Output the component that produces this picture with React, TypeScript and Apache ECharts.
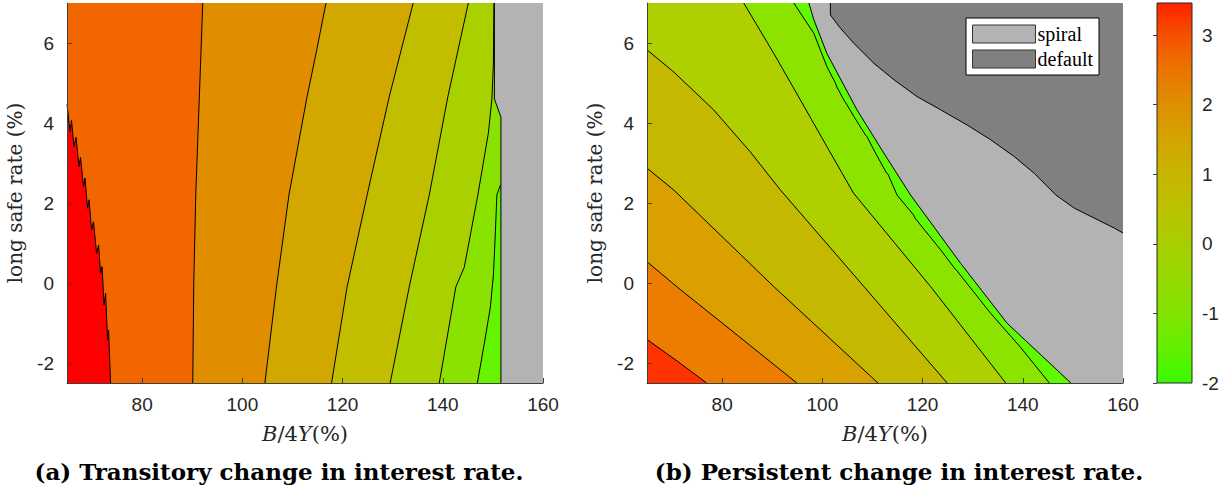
import React, { useEffect, useRef } from "react";
import * as echarts from "echarts";

// ---------- axes ----------
const X_MIN = 65;
const X_MAX = 160;
const Y_MIN = -2.5;
const Y_MAX = 7;
const xTicks = [80, 100, 120, 140, 160];
const yTicks = [-2, 0, 2, 4, 6];
const colorbarTicks = [-2, -1, 0, 1, 2, 3];
const colorbarMin = -2;
const colorbarMax = 3.46;
const colorbarStops: [number, string][] = [
  [3.46, "#ff2200"], [3, "#f55000"], [2.5, "#ea7400"], [2, "#df8f00"],
  [1.5, "#d3a400"], [1, "#c7b500"], [0.5, "#bac200"], [0, "#a9ce00"],
  [-0.5, "#97d900"], [-1, "#82e400"], [-1.5, "#63ef00"], [-2, "#38fb00"],
];

// ---------- (a) transitory: contour lines [B/4Y, rate] ----------
const leftLine0 = [
  [65, 4.47], [65.6, 3.78], [65.9, 4.06], [66.4, 3.41], [66.8, 3.64], [67.4, 2.91],
  [67.7, 3.14], [68.3, 2.41], [68.6, 2.62], [69.1, 1.87], [69.4, 2.08], [69.9, 1.33],
  [70.3, 1.53], [70.9, 0.74], [71.3, 0.95], [71.7, 0.24], [72, 0.41], [72.4, -0.55],
  [72.7, -0.26], [73.1, -1.43], [73.3, -1.18], [73.7, -2.5],
];
const leftLine1 = [[92.1, 7], [91.4, 4.6], [90.7, 2.2], [90.3, 0], [90.1, -2.5]];
const leftLine2 = [[116.7, 7], [114.8, 5.8], [112.9, 4.65], [109.3, 2.2], [106.8, -0.1], [104.5, -2.5]];
const leftLine3 = [[134.1, 7], [129.3, 4.65], [124.9, 2.2], [120.9, -0.1], [117.8, -2.5]];
const leftLine4 = [[145.1, 7], [141, 4.65], [137.3, 2.2], [133.3, -0.1], [129.5, -2.5]];
const leftLine5 = [[150.2, 7], [150.1, 5.5], [149.8, 4.6], [149.1, 3.75], [147.0, 2.2], [144.3, 0.4], [142.6, -0.1], [139.3, -2.5]];
const leftLine6 = [[151.5, 2.45], [150.8, 2.2], [150.4, 1.0], [150.1, 0.2], [149.5, -0.6], [148.3, -1.5], [146.9, -2.5]];
const leftSpiralEdge = [[150.3, 7], [150.3, 4.6], [151.6, 4.15], [151.6, -2.5]];
const leftBaseColor = "#ff0000";
const leftBandColors = ["#f26600", "#e08d00", "#d2a800", "#c1be00", "#a9d100", "#89e200", "#66f300"];
const leftBandLines = [leftLine0, leftLine1, leftLine2, leftLine3, leftLine4, leftLine5, leftLine6];

// ---------- (b) persistent ----------
const rightLine0 = [[65, -1.41], [71, -1.95], [76.9, -2.5]];
const rightLine1 = [[65, 0.53], [72, -0.2], [80, -1.0], [94.9, -2.5]];
const rightLine2 = [[65, 2.87], [70.3, 2.33], [80.3, 1.12], [90.3, -0.09], [111.1, -2.5]];
const rightLine3 = [[65, 5.83], [70.3, 5.28], [78.3, 4.33], [85.6, 3.28], [91.6, 2.33], [108.3, -0.09], [124.9, -2.5]];
const rightLine4 = [[84.3, 7], [90.3, 5.74], [95.6, 4.58], [100.9, 3.41], [106.2, 2.25], [121.6, -0.09], [136.6, -2.5]];
const rightLine5 = [
  [94.3, 7], [98.3, 6.24], [100.9, 5.41], [102.6, 5.0], [102.9, 4.9], [104.4, 4.55], [104.7, 4.5],
  [106.3, 4.16], [108.6, 3.7], [108.9, 3.66], [110.6, 3.25], [112.8, 2.75], [113.1, 2.72],
  [114.9, 2.2], [118.2, 1.7], [118.5, 1.62], [123.6, 0.83], [126.5, 0.35], [126.9, 0.3],
  [133.6, -0.76], [139.5, -1.6], [145.3, -2.5],
];
const rightLine6 = [[97.3, 7], [98.3, 6.58], [100.9, 5.74], [106.9, 4.33], [112, 3.3], [117.6, 2.2], [127.6, 0.49], [136.9, -1.01], [149.6, -2.5]];
const rightDefaultEdge = [
  [101.6, 7], [101.6, 6.7], [103.6, 6.37], [106.3, 5.99], [110.3, 5.49], [114.3, 5.08],
  [118.9, 4.66], [123.6, 4.33], [128.9, 3.95], [133.6, 3.58], [138.3, 3.16], [142.3, 2.74],
  [146.6, 2.2], [150.3, 1.87], [158.3, 1.37], [160, 1.25],
];
const rightBaseColor = "#ff3300";
const rightBandColors = ["#ed7d00", "#d9a000", "#c5b800", "#b0cf00", "#8ce300", "#5ff900"];
const rightBandLines = [rightLine0, rightLine1, rightLine2, rightLine3, rightLine4, rightLine5];

const spiralColor = "#b3b3b3";
const defaultColor = "#808080";

const TICK_FONT = { fontFamily: "Liberation Sans", fontSize: 19, color: "#262626" };
const AXIS_COLOR = "#404040";
const TITLE_FONT = "DejaVu Serif";

function regionSeries(name: string, gi: number, lines: number[][][], colors: string[], legendColor: string) {
  return {
    type: "custom",
    name,
    xAxisIndex: gi,
    yAxisIndex: gi,
    itemStyle: { color: legendColor, borderColor: "#222", borderWidth: 1 },
    data: lines.map((_, i) => [i]),
    renderItem: (params: any, api: any) => {
      const i = params.dataIndex;
      const line = lines[i];
      const pts = line.map((p) => api.coord(p));
      const first = line[0];
      const fromOuterEdge = first[0] === X_MIN || first[1] === Y_MAX;
      const corners = fromOuterEdge
        ? [[X_MAX, Y_MIN], [X_MAX, Y_MAX], [X_MIN, Y_MAX]]
        : [[X_MAX, Y_MIN], [X_MAX, Y_MAX]];
      const close = corners.map((p) => api.coord(p));
      return {
        type: "group",
        children: [
          { type: "polygon", shape: { points: pts.concat(close) }, style: { fill: colors[i] } },
          { type: "polyline", shape: { points: pts }, style: { stroke: "#000", lineWidth: 1, fill: null } },
        ],
      };
    },
  };
}

function mainXAxis(gi: number) {
  return {
    gridIndex: gi, type: "value", min: X_MIN, max: X_MAX, z: 10,
    axisLine: { show: true, onZero: false, lineStyle: { color: AXIS_COLOR, width: 1 } },
    axisTick: { show: true, inside: true, length: 5, customValues: xTicks, lineStyle: { color: AXIS_COLOR } },
    axisLabel: { customValues: xTicks, margin: 12, ...TICK_FONT },
    splitLine: { show: false },
    name: "{i|B}/4{i|Y}(%)",
    nameLocation: "middle",
    nameGap: 40,
    nameTextStyle: {
      fontFamily: TITLE_FONT, fontSize: 21, color: "#262626",
      rich: { i: { fontFamily: TITLE_FONT, fontSize: 21, fontStyle: "italic", color: "#262626" } },
    },
  };
}
function mainYAxis(gi: number) {
  return {
    gridIndex: gi, type: "value", min: Y_MIN, max: Y_MAX, z: 10,
    axisLine: { show: true, onZero: false, lineStyle: { color: AXIS_COLOR, width: 1 } },
    axisTick: { show: true, inside: true, length: 5, customValues: yTicks, lineStyle: { color: AXIS_COLOR } },
    axisLabel: { customValues: yTicks, margin: 13, ...TICK_FONT },
    splitLine: { show: false },
    name: "long safe rate (%)",
    nameLocation: "middle",
    nameGap: 42,
    nameTextStyle: { fontFamily: TITLE_FONT, fontSize: 20, color: "#262626" },
  };
}

export default function App() {
  const ref = useRef<HTMLDivElement>(null);
  useEffect(() => {
    if (!ref.current) return;
    const chart = echarts.init(ref.current, undefined, { renderer: "svg" });
    const span = colorbarMax - colorbarMin;
    const gradient = new echarts.graphic.LinearGradient(
      0, 0, 0, 1,
      colorbarStops.map(([v, c]) => ({ offset: (colorbarMax - v) / span, color: c }))
    );
    chart.setOption({
      animation: false,
      backgroundColor: "#ffffff",
      grid: [
        { left: 67, top: 3, width: 476, height: 380, show: true, backgroundColor: leftBaseColor, borderWidth: 0 },
        { left: 647, top: 3, width: 476, height: 380, show: true, backgroundColor: rightBaseColor, borderWidth: 0 },
        { left: 1157, top: 3, width: 35, height: 380, show: false },
      ],
      xAxis: [
        mainXAxis(0),
        mainXAxis(1),
        { gridIndex: 2, type: "value", min: 0, max: 1, show: false },
      ],
      yAxis: [
        mainYAxis(0),
        mainYAxis(1),
        {
          gridIndex: 2, type: "value", min: colorbarMin, max: colorbarMax, position: "right", z: 10,
          axisLine: { show: false },
          axisTick: { show: true, inside: true, length: 4, customValues: colorbarTicks, lineStyle: { color: AXIS_COLOR } },
          axisLabel: { customValues: colorbarTicks, margin: 10, ...TICK_FONT },
          splitLine: { show: false },
        },
      ],
      legend: {
        data: ["spiral", "default"],
        orient: "vertical",
        left: 966,
        top: 18,
        icon: "rect",
        itemWidth: 63,
        itemHeight: 18,
        itemGap: 5,
        padding: [6, 6, 6, 6],
        backgroundColor: "#ffffff",
        borderColor: "#000000",
        borderWidth: 1,
        selectedMode: false,
        itemStyle: { borderColor: "#333", borderWidth: 1 },
        textStyle: { fontFamily: "Liberation Serif", fontSize: 20, color: "#000", padding: [0, 0, 0, -3] },
      },
      series: [
        regionSeries("leftBands", 0, leftBandLines, leftBandColors, leftBandColors[0]),
        regionSeries("spiral", 0, [leftSpiralEdge], [spiralColor], spiralColor),
        regionSeries("rightBands", 1, rightBandLines, rightBandColors, rightBandColors[0]),
        regionSeries("spiral", 1, [rightLine6], [spiralColor], spiralColor),
        regionSeries("default", 1, [rightDefaultEdge], [defaultColor], defaultColor),
        {
          type: "custom",
          name: "colorbar",
          xAxisIndex: 2,
          yAxisIndex: 2,
          data: [[0]],
          renderItem: (_p: any, api: any) => {
            const tl = api.coord([0, colorbarMax]);
            const br = api.coord([1, colorbarMin]);
            return {
              type: "rect",
              shape: { x: tl[0], y: tl[1], width: br[0] - tl[0], height: br[1] - tl[1] },
              style: { fill: gradient, stroke: "#262626", lineWidth: 1 },
            };
          },
        },
      ],
      graphic: [
        {
          type: "text", x: 279, y: 471,
          style: {
            text: "(a) Transitory change in interest rate.",
            fontFamily: "DejaVu Serif", fontWeight: "bold", fontSize: 23, fill: "#000",
            align: "center", verticalAlign: "middle",
          },
        },
        {
          type: "text", x: 899, y: 471,
          style: {
            text: "(b) Persistent change in interest rate.",
            fontFamily: "DejaVu Serif", fontWeight: "bold", fontSize: 23, fill: "#000",
            align: "center", verticalAlign: "middle",
          },
        },
      ],
    });
    return () => chart.dispose();
  }, []);
  return <div ref={ref} style={{ position: "absolute", left: 0, top: 0, width: 1231, height: 492 }} />;
}
